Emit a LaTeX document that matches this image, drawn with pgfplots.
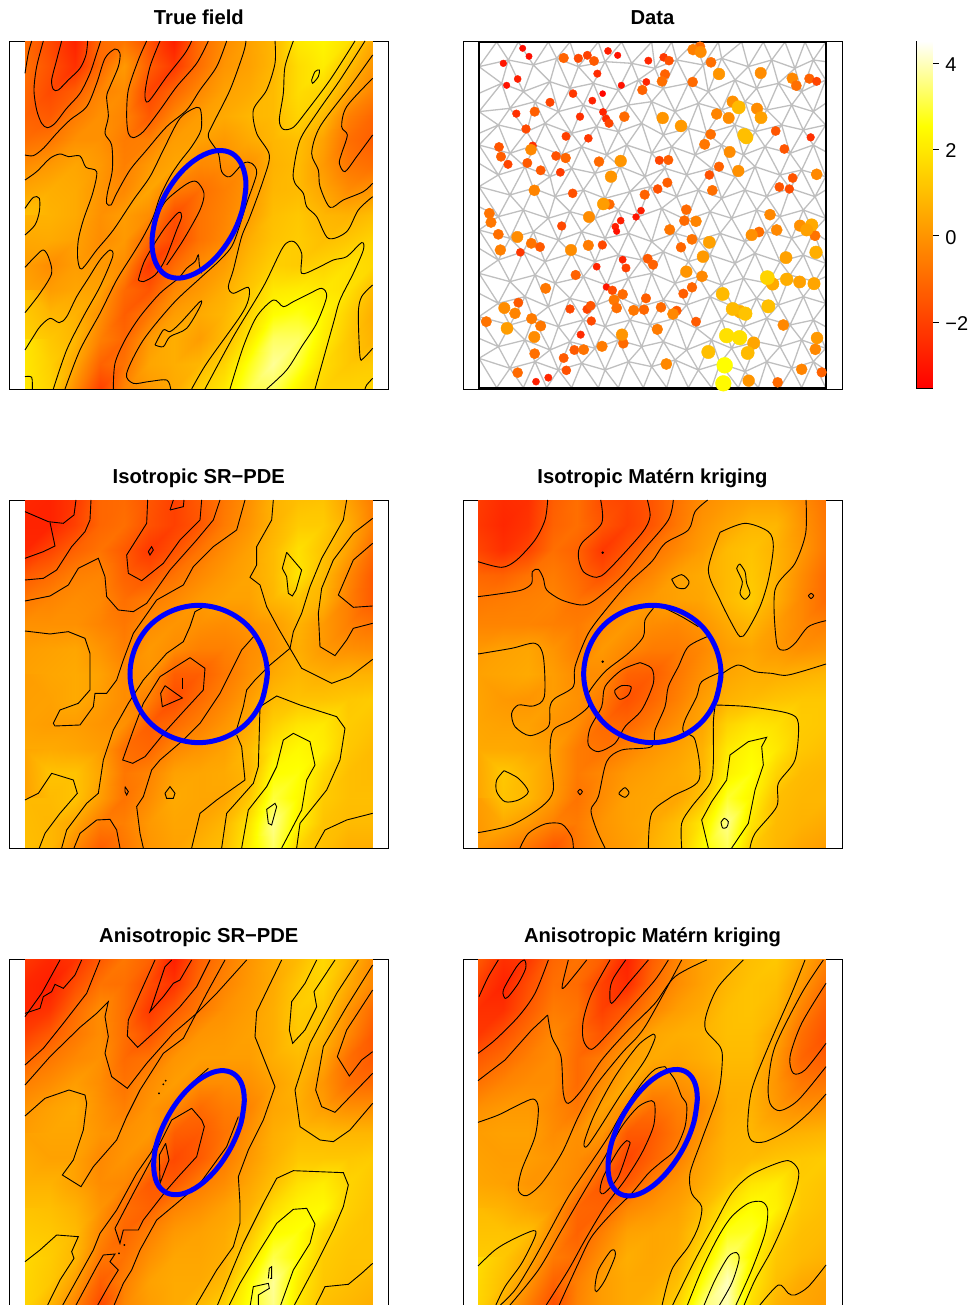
\documentclass[border=0pt]{standalone}
\usepackage{fontspec}
\setmainfont{Liberation Sans}
\usepackage{pgfplots}
\pgfplotsset{compat=1.18}
\pgfplotsset{
 colormap={heat}{rgb255(0)=(255,0,0) rgb255(606)=(255,255,0) rgb255(804)=(255,255,255)},
 panel/.style={scale only axis,width=379pt,height=348pt,anchor=south west,ticks=none,y dir=reverse,
  colormap name=heat,point meta min=-3.53,point meta max=4.51,unbounded coords=jump,
  axis line style={line width=0.8pt,black},
  every axis title shift=0pt,
  title style={anchor=base,yshift=16.5pt,font=\fontsize{20.2}{24}\selectfont\bfseries}},
 ct/.style={black,line width=0.9pt,no marks},
 rd/.style={ct,smooth,tension=0.5},
 ring/.style={color=blue,line width=5pt,no marks,smooth,tension=0.6},
}
\newcommand\fld[3]{\addplot[surf,shader=interp,mesh/cols=15,point meta=explicit]
 table[row sep=crcr,header=false,x expr={#1+mod(\coordindex,15)*74.55},y expr={#2+floor(\coordindex/15)*74.57},meta index=0]{#3};}
\newcommand\cl[1]{\addplot[ct] coordinates {#1};}
\newcommand\cs[1]{\addplot[rd] coordinates {#1};}
% mesh vertices of the data panel
\newcommand\vrow[2]{\foreach \x/\y [count=\i from 0] in {#2}{\expandafter\xdef\csname V#1-\i\endcsname{(\x,\y)}}}
\vrow{0}{72/36,125/36,190/36,280/36,345/36,430/36,500/36,590/36,650/36,720/36,790/36,860/36,925/36,990/36,1050/36,1112/36}
\vrow{1}{72/110,160/90,235/105,305/85,370/110,450/95,530/100,600/115,665/90,745/105,800/85,880/110,950/90,1020/115,1075/90,1112/95}
\vrow{2}{72/190,140/160,205/185,285/155,345/175,415/160,490/180,550/150,625/175,700/160,760/185,840/150,905/175,970/160,1040/185,1112/150}
\vrow{3}{72/245,165/235,240/215,310/245,385/225,450/245,520/225,590/215,660/245,730/220,800/240,870/215,935/240,1010/225,1075/245,1112/220}
\vrow{4}{72/310,130/285,215/305,270/280,350/310,425/290,490/305,560/280,625/315,700/295,755/310,840/285,900/305,980/285,1045/300,1112/285}
\vrow{5}{72/345,165/370,240/345,320/375,380/350,455/375,515/345,590/370,650/350,720/375,800/345,865/375,930/350,1005/370,1075/345,1112/365}
\vrow{6}{72/400,130/435,210/410,285/440,350/415,420/430,495/410,570/440,630/415,695/435,770/415,840/440,900/410,975/435,1040/420,1112/440}
\vrow{7}{72/470,165/495,235/475,300/500,385/480,450/505,525/485,585/470,665/500,730/480,800/505,870/480,935/500,1005/475,1080/500,1112/480}
\vrow{8}{72/530,130/560,205/540,280/565,345/545,420/565,490/540,550/560,620/535,695/570,765/545,830/565,905/540,975/560,1045/540,1112/565}
\vrow{9}{72/600,165/625,235/605,310/630,380/605,450/625,520/610,590/635,660/610,730/630,795/610,870/635,935/605,1010/625,1075/605,1112/630}
\vrow{10}{72/655,130/690,205/665,270/695,350/670,420/695,490/675,560/690,625/665,700/695,765/675,840/700,900/670,975/695,1045/675,1112/700}
\vrow{11}{72/730,165/755,240/735,300/760,385/740,455/765,520/745,590/730,660/760,730/740,800/765,865/745,940/760,1005/735,1080/755,1112/740}
\vrow{12}{72/790,130/820,210/800,280/830,345/805,425/825,490/800,555/830,625/810,695/825,765/800,835/830,905/805,970/825,1045/800,1112/820}
\vrow{13}{72/860,165/885,235/865,310/890,385/870,450/890,525/870,585/885,660/865,725/895,800/870,865/890,935/865,1005/885,1075/870,1112/890}
\vrow{14}{72/925,130/950,210/930,285/960,345/935,420/955,490/930,560/950,625/935,695/960,770/930,830/955,905/935,975/950,1040/930,1112/955}
\vrow{15}{72/985,165/1015,240/995,310/1020,380/1000,450/1020,520/995,590/1010,660/990,730/1020,795/1000,870/1025,935/995,1010/1015,1075/995,1112/1020}
\vrow{16}{72/1073,125/1073,205/1073,275/1073,350/1073,430/1073,490/1073,565/1073,635/1073,700/1073,770/1073,850/1073,910/1073,975/1073,1040/1073,1112/1073}
\gdef\meshc{}
\newcommand\seg[4]{\xdef\meshc{\meshc\csname V#1-#2\endcsname\csname V#3-#4\endcsname(nan,nan)}}
\foreach \j in {0,...,16}{\foreach \i in {0,...,15}{%
 \pgfmathtruncatemacro\jj{\j+1}\pgfmathtruncatemacro\ii{\i+1}\pgfmathtruncatemacro\odd{mod(\j,2)}%
 \ifnum\i<15 \seg\j\i\j\ii\fi
 \ifnum\j<16 \seg\j\i\jj\i
  \ifnum\i<15 \ifnum\odd=1 \seg\j\i\jj\ii\else\seg\j\ii\jj\i\fi\fi
 \fi}}
\begin{document}
\begin{tikzpicture}
\useasboundingbox (0,0) rectangle (976pt,1305pt);
\clip (0,0) rectangle (976pt,1305pt);
% ---------- True field
\begin{axis}[panel,at={(9.33pt,916pt)},xmin=28,xmax=1165,ymin=33,ymax=1077,title={True field}]
\fld{75}{33}{
-1\\-1.8\\-2.7\\-1\\-0.7\\-1.6\\-2.8\\-1\\-0.2\\0.3\\0.8\\2\\2.3\\1.8\\0.5\\
-0.9\\-1.6\\-2.4\\-1\\0.1\\-1.3\\-2.2\\-0.9\\0\\0.3\\0.8\\1.7\\2.1\\1\\0\\
-1.1\\-1.8\\-1.3\\-0.4\\-0.2\\-1.9\\-1.1\\-0.3\\0.3\\0.5\\0.9\\1.7\\1.5\\0.4\\-0.4\\
-1.2\\-1.4\\-0.6\\-0.1\\-0.4\\-1.4\\-0.3\\0.2\\0.5\\0.8\\0.9\\1.5\\0.9\\-0.5\\-1.1\\
-0.9\\-0.7\\-0.1\\-0.1\\-0.6\\-0.5\\0.2\\0.3\\0.1\\0.5\\0.8\\1\\0.3\\-0.9\\-1.3\\
-0.2\\0.1\\0.4\\0.1\\-0.5\\0.1\\0.4\\-0.3\\-0.2\\-0.1\\0.7\\0.9\\0.1\\-0.7\\-0.9\\
0.4\\0.6\\0.5\\0\\-0.3\\0.4\\-0.6\\-0.9\\-0.5\\0\\0.8\\0.9\\0.4\\-0.2\\0\\
1\\0.7\\0.5\\-0.1\\0.2\\-0.2\\-1.7\\-0.8\\-0.4\\0.2\\1\\1.2\\0.8\\0.7\\1\\
0.7\\0.5\\0.3\\-0.2\\0.1\\-1.1\\-1.8\\-0.8\\-0.3\\0.6\\1.1\\1.3\\1\\1.2\\1.5\\
0.2\\-0.2\\0.2\\0.1\\-0.2\\-2.2\\-1\\-0.2\\0.2\\0.9\\1.4\\1.3\\1.5\\1.8\\1.6\\
0.4\\0.2\\0.4\\0.3\\-1\\-1.5\\-0.3\\0.1\\0.6\\1.2\\2\\2.1\\2\\1.8\\0.9\\
1\\0.8\\0.7\\-0.1\\-1.3\\-0.7\\0.2\\0.5\\0.8\\1.5\\2.5\\2.7\\2.3\\1.4\\0.6\\
1.5\\1.2\\0.8\\-0.5\\-1.1\\0.1\\0.6\\0.2\\0.9\\2\\3.3\\3.3\\2.1\\1.2\\0.7\\
1.9\\1.4\\0.4\\-1.2\\-0.8\\0.4\\0.6\\0.8\\1.5\\2.7\\3.7\\2.9\\1.7\\1.2\\1.3\\
2\\1.5\\-0.2\\-2\\-0.4\\0.1\\0.5\\1.4\\2\\3.1\\3.2\\2.2\\1.5\\1.5\\1.5\\
}
\cs{(185,33)(170,90)(155,150)(160,178)(175,180)(205,150)(240,115)(258,75)(263,33)}
\cs{(130,33)(110,110)(102,180)(110,240)(125,280)(142,293)(165,280)(200,235)(240,190)(270,130)(290,70)(302,33)}
\cs{(95,33)(85,70)(75,130)}
\cs{(75,375)(100,377)(130,355)(170,310)(210,270)(260,230)(290,160)(315,85)(345,57)(360,70)(355,110)(330,170)(320,200)(325,260)(315,310)(335,345)(337,420)(322,490)(320,520)(333,525)(350,490)(390,420)(440,360)(500,290)(560,240)(600,180)(650,110)(680,33)}
\cs{(75,450)(110,425)(150,385)(180,372)(205,380)(240,378)(258,412)(290,425)(278,490)(250,570)(235,630)(233,685)(245,717)(290,660)(340,600)(400,510)(450,440)(490,360)(540,265)(590,232)(603,245)(603,300)(575,350)(540,395)(510,440)(480,500)(460,560)(430,620)(400,670)(350,750)(300,850)(240,960)(195,1077)}
\cs{(75,960)(100,920)(120,890)(150,865)(178,878)(200,860)(230,800)(265,745)(300,690)(330,660)(338,680)(300,770)(250,860)(200,960)(160,1077)}
\cs{(75,535)(100,502)(118,505)(118,545)(105,585)(75,615)}
\cs{(75,712)(110,675)(130,660)(145,680)(155,730)(120,790)(75,848)}
\cs{(75,1040)(95,1042)(97,1077)}
\cs{(470,560)(500,510)(560,462)(590,455)(612,490)(600,540)(550,630)(500,705)}
\cs{(340,1077)(345,1000)(375,930)(420,860)(480,790)(535,745)(560,715)(585,695)(595,675)(598,705)(605,730)}
\cs{(512,1077)(500,1050)(445,1055)(400,1060)(380,1030)(430,930)(520,820)(600,745)(660,690)(700,640)(740,520)(770,430)(755,400)(730,400)(690,440)(665,425)(655,370)(625,320)(640,280)(690,180)(730,70)(738,33)}
\cs{(415,750)(435,690)(490,600)(535,548)(545,560)(530,600)(495,690)(465,735)(430,755)(415,750)}
\cs{(480,33)(450,110)(435,190)(445,215)(500,140)(555,70)(575,33)}
\cs{(440,33)(415,90)(385,180)(380,260)(385,310)(400,323)(430,305)(480,240)(530,170)(590,100)(625,33)}
\cs{(825,33)(825,100)(800,180)(760,240)(770,310)(808,375)(790,450)(750,560)(725,620)(700,720)(685,770)(700,790)(745,772)(745,810)(720,860)(620,1000)(575,1077)}
\cs{(880,33)(855,110)(850,190)(838,270)(850,298)(880,292)(915,250)(990,150)(1065,33)}
\cs{(935,150)(945,125)(958,120)(955,140)(938,160)(935,150)}
\cs{(1095,33)(1020,150)(950,250)(900,330)(880,425)(885,460)(910,490)(920,530)(950,560)(985,625)(1040,605)(1075,540)(1118,500)}
\cs{(1118,75)(1050,170)(960,290)(935,370)(955,420)(960,470)(990,532)(1030,510)(1090,485)(1118,460)}
\cs{(1118,145)(1040,230)(1025,290)(1042,315)(1025,370)(1018,400)(1035,425)(1070,380)(1118,315)}
\cs{(615,1077)(700,920)(790,770)(850,650)(882,635)(905,670)(905,730)(950,715)(1000,690)(1040,680)(1085,638)(1090,660)(1060,730)(1020,810)(1000,880)(945,1077)}
\cs{(690,1077)(730,950)(770,860)(820,810)(850,830)(880,815)(930,790)(965,775)(980,800)(950,880)(905,950)(860,1020)(800,1077)}
\cs{(1118,765)(1085,800)(1075,850)(1080,980)(1090,985)(1118,955)}
\cs{(1118,1045)(1100,1065)(1095,1077)}
\cs{(465,945)(490,900)(510,905)(540,880)(600,815)(600,830)(560,895)(510,920)(490,950)(465,945)}
\addplot[ring] coordinates {(738,467)(727,540)(697,614)(651,679)(597,724)(543,744)(497,735)(467,698)(456,639)(467,566)(497,492)(543,427)(597,382)(651,362)(697,371)(727,408)(738,467)(727,540)};
\end{axis}
% ---------- Data
\begin{axis}[panel,at={(463pt,916pt)},xmin=24,xmax=1161,ymin=33,ymax=1077,title={Data}]
\edef\tmp{\noexpand\addplot[color=black!25,line width=1.3pt,no marks] coordinates {\meshc};}\tmp
\addplot[scatter,only marks,mark=*,point meta=explicit,
 scatter/use mapped color={draw=mapped color,fill=mapped color},
 visualization depends on={value \thisrowno{2} \as \vv},
 scatter/@pre marker code/.append code={\pgfmathsetmacro\rr{3.3+0.83*(\vv+3.1)}\pgfsetplotmarksize{\rr pt}}]
 table[row sep=crcr,header=false,x index=0,y index=1,meta index=2]{
203 55 -3.2\\222 79 -3.2\\145 100 -3\\155 166 -3.1\\188 147 -2.8\\326 84 -1.2\\370 85 -1.8\\397 76 -2\\417 93 -1.4\\459 63 -2.8\\488 76 -3.1\\427 131 -2.5\\499 166 -3.1\\443 191 -3.4\\580 92 -2.6\\626 82 -2.2\\642 92 -1.6\\630 133 -1.2\\621 154 -0.9\\574 156 -2.7\\562 180 -1.2\\713 156 -1\\768 97 -0.9\\792 132 0\\917 129 -0.2\\1012 145 -0.3\\1024 167 -0.9\\1063 146 -1.2\\1085 154 -1.9\\735 50 -1\\714 59 -0.5\\737 66 -0.2\\
354 191 -2.2\\412 212 -2.7\\285 217 -1.9\\184 251 -2.4\\239 245 -1.3\\375 260 -2.4\\444 246 -2.7\\453 266 -2.5\\462 280 -1.9\\508 260 -1\\623 264 0\\678 288 0.1\\785 252 -0.4\\821 264 -0.2\\833 215 -0.1\\851 232 0.9\\906 236 -0.2\\918 263 0.3\\868 315 1\\874 322 1\\962 303 -1.5\\1067 322 -2.4\\213 297 -1.8\\333 319 -2\\400 325 -2.2\\767 313 -0.9\\749 343 -0.7\\988 357 -1.5\\132 351 -1.5\\233 347 -2.4\\228 359 -0.3\\138 380 -1.3\\159 403 -1.9\\217 399 -1.4\\303 378 -1.6\\332 384 -1.1\\257 421 -1.4\\316 427 -2.1\\432 395 -1\\497 393 0\\468 440 0\\613 391 -1.9\\640 390 -1.3\\824 366 -0.2\\792 410 -1.2\\763 435 -1.6\\850 423 -0.1\\1013 444 -1.5\\1085 433 -0.3\\637 458 -1.3\\608 477 -1.6\\569 494 -1.2\\772 481 -0.9\\973 471 -1.5\\1003 477 -1.7\\238 481 -0.4\\353 490 -1.6\\463 523 -1\\445 522 0.2\\
694 539 -1\\558 542 -2.8\\543 561 -3\\497 572 -2.8\\481 590 -2.8\\485 604 -3.1\\103 550 -0.8\\108 577 -0.7\\320 588 -1.8\\402 561 -0.2\\688 572 -1\\723 574 -0.4\\945 554 -0.3\\644 599 -0.7\\912 606 -0.9\\890 615 -0.1\\965 600 -0.3\\1035 587 -0.1\\1080 617 -0.8\\1070 585 0.5\\1055 600 0.3\\130 613 -0.9\\187 621 -0.2\\229 640 -0.8\\255 651 -1.4\\136 660 -0.5\\196 667 -2.2\\348 660 -0.2\\400 646 -0.6\\442 645 -1.8\\711 628 -0.8\\763 637 0.3\\678 652 -1.1\\1083 667 0.6\\993 683 0.3\\744 680 0.1\\503 689 -2.7\\578 686 -1.4\\594 704 -1.2\\513 714 -2\\425 710 -2.7\\694 725 0\\741 739 -0.3\\362 735 -1.2\\953 762 0.5\\937 743 1.5\\995 748 0.6\\1034 756 0.3\\1077 761 0.4\\454 771 -3\\472 781 -1.7\\503 793 -1\\272 775 -0.7\\711 772 -1.1\\685 791 -1.3\\803 792 0.9\\477 810 -0.7\\573 805 -1.3\\190 818 -1.4\\148 834 -0.2\\180 850 -0.4\\345 837 -1.8\\396 838 -1.9\\407 827 -1.5\\485 834 -0.9\\536 841 -0.7\\567 839 -1.1\\618 832 -1\\665 842 -1.4\\654 852 -0.3\\855 845 0.6\\833 837 0.9\\871 851 1.1\\940 829 1\\230 866 -0.6\\257 888 -0.7\\94 875 -0.8\\156 895 0.2\\409 873 -1.8\\723 875 -1.4\\985 885 -0.3\\607 898 -0.6\\238 921 -0.2\\377 914 -2.5\\505 940 -1\\501 914 0\\815 917 1.8\\854 923 1.8\\896 939 0.4\\1086 924 0.1\\441 949 -0.6\\358 960 -1.4\\386 959 -0.8\\239 971 -0.9\\760 966 1\\878 969 0.9\\1081 958 -0.3\\326 984 -1.4\\634 1002 -0.3\\809 1006 2.5\\1040 1018 -0.4\\1100 1027 -1.2\\188 1028 -1\\334 1021 -1.6\\280 1043 -2.6\\243 1055 -2.8\\805 1060 2.4\\881 1052 0\\968 1057 -1\\
};
\addplot[black,line width=1.7pt,no marks] coordinates {(72,36)(1112,36)(1112,1073)(72,1073)(72,36)(1112,36)};
\end{axis}
% ---------- colour bar
\begin{axis}[at={(916.7pt,917pt)},anchor=south west,scale only axis,width=15.6pt,height=347pt,
 colormap name=heat,point meta min=-3.53,point meta max=4.51,xmin=0,xmax=1,ymin=-3.53,ymax=4.51,
 xtick=\empty,ytick={-2,0,2,4},yticklabels={−2,0,2,4},ytick pos=right,yticklabel pos=right,
 tick align=outside,major tick length=6.5pt,tick style={black,line width=0.8pt},
 axis line style={line width=0.8pt,black},
 yticklabel style={font=\fontsize{20}{24}\selectfont,xshift=3pt,yshift=-1.5pt}]
\addplot[surf,shader=interp,mesh/cols=2,point meta=y] coordinates {(0,-3.53)(1,-3.53)(0,2.53)(1,2.53)(0,4.51)(1,4.51)};
\end{axis}
% ---------- Isotropic SR-PDE
\begin{axis}[panel,at={(9.33pt,457pt)},xmin=28,xmax=1165,ymin=30,ymax=1074,title={Isotropic SR−PDE}]
\fld{75}{30}{
-2.6\\-2.7\\-2.2\\-1.1\\-1\\-1.5\\-2\\-1.4\\-0.7\\-0.1\\0.7\\1\\1.1\\0.3\\-0.6\\
-2.7\\-2.7\\-2\\-1.1\\-0.9\\-1.6\\-2\\-1.5\\-0.6\\0\\0.7\\1.3\\1.3\\0.6\\-0.5\\
-2.6\\-1.9\\-1.2\\-0.8\\-1.4\\-2.2\\-1.6\\-0.8\\-0.2\\0.3\\0.9\\1.8\\1.1\\0.3\\-1\\
-1.4\\-1\\-0.5\\-0.4\\-1.2\\-1.5\\-0.8\\-0.3\\0.1\\0.4\\0.9\\1.9\\0.9\\-0.3\\-1.4\\
-0.7\\-0.4\\-0.2\\-0.3\\-0.9\\-0.6\\-0.3\\0.1\\0.3\\0.3\\0.8\\1.1\\0.7\\-0.5\\-1.4\\
-0.1\\-0.1\\-0.1\\-0.4\\-0.7\\-0.2\\0\\-0.1\\-0.2\\0\\0.2\\0.7\\0.1\\-0.5\\-0.8\\
0.2\\0.3\\0.4\\0\\-0.5\\0.1\\-0.2\\-0.5\\-0.5\\-0.2\\0.1\\0.6\\0.1\\-0.1\\-0.2\\
0.3\\0.4\\0.5\\0.3\\-0.2\\0\\-1.3\\-1.3\\-0.7\\-0.1\\0.5\\0.8\\0.6\\0.7\\0.7\\
0.2\\0.3\\0.5\\0.2\\-0.2\\-0.5\\-1.7\\-1\\-0.4\\0.2\\0.9\\1.1\\1.1\\1.2\\1.3\\
0.3\\0.2\\0.2\\0\\-0.1\\-1.3\\-1\\-0.5\\0\\0.5\\1.4\\1.9\\2\\1.3\\1.1\\
0.5\\0.5\\0.4\\0.2\\-0.9\\-1.1\\-0.3\\0\\0.3\\0.9\\2\\2.4\\2.1\\1.2\\0.9\\
0.4\\1.1\\1.1\\0.4\\-0.7\\-0.4\\0.3\\0.4\\0.5\\0.8\\2.5\\2.6\\1.6\\1\\0.9\\
0.3\\0.9\\1.1\\0.2\\-0.8\\-0.2\\0.5\\0.4\\0.4\\1.2\\3\\2.4\\1.3\\1\\1\\
0.9\\0.8\\0.4\\-0.6\\-0.5\\0.1\\0.4\\0.4\\0.8\\1.9\\3.6\\2.2\\1.1\\0.9\\0.9\\
1\\0.8\\-0.3\\-1.3\\-0.7\\0\\0.3\\0.7\\1\\2.1\\3.3\\1.5\\1\\0.6\\0.6\\
}
\cl{(75,65)(145,95)(190,100)(222,75)(228,30)}
\cl{(150,97)(165,168)(130,185)(75,205)}
\cl{(75,270)(130,265)(170,240)(215,170)(255,125)(270,90)(273,30)}
\cl{(75,333)(150,318)(205,285)(235,235)(295,205)(315,260)(320,320)(355,360)(400,365)(440,340)(510,240)(590,150)(640,90)(660,30)}
\cl{(605,30)(600,90)(540,150)(490,220)(425,272)(385,250)(380,195)(440,100)(443,30)}
\cl{(510,60)(520,30)}\cl{(510,60)(550,50)(552,30)}
\cl{(445,185)(455,170)(460,180)(450,195)(445,185)}
\cl{(735,30)(710,120)(640,170)(580,230)(550,285)(470,330)(400,430)(370,510)(350,570)(320,610)(285,610)(280,650)(240,705)(165,708)(160,700)(180,660)(235,640)(270,600)(270,490)(255,445)(205,425)(150,432)(75,423)}
\cl{(820,30)(815,90)(770,170)(770,225)(750,262)(780,285)(800,350)(835,415)(870,475)(905,535)(995,580)(1050,560)(1118,508)}
\cl{(870,475)(810,525)(765,570)(740,600)(730,650)(705,735)}
\cl{(1040,30)(1030,90)(965,205)(930,290)(905,370)(880,425)(870,475)}
\cl{(623,345)(585,365)(570,410)(550,455)(500,490)(430,570)(385,640)(340,720)(310,810)(295,910)(260,940)(200,1020)(185,1074)}
\cl{(765,435)(725,480)(700,530)(660,610)(600,700)(550,750)(480,810)(455,840)(430,920)(410,950)(420,1030)(430,1074)}
\cl{(570,503)(615,535)(610,600)(550,665)(500,720)(435,800)(398,820)(368,810)(400,720)(430,640)(480,560)(570,503)}
\cl{(495,587)(547,624)(487,650)(482,610)(495,587)}
\cl{(547,563)(547,597)}
\cl{(780,650)(775,830)(760,880)(680,970)(665,1074)}
\cl{(780,650)(830,618)(900,645)(1010,680)(1035,715)(1020,810)(980,900)(900,1000)(890,1074)}
\cl{(845,1074)(905,960)(920,870)(945,825)(930,755)(880,730)(850,750)(830,830)(800,890)(745,960)(725,1074)}
\cl{(800,958)(825,940)(830,950)(815,1005)(805,1000)(800,958)}
\cl{(710,735)(725,770)(735,870)(650,930)(600,970)(575,1074)}
\cl{(75,930)(115,910)(155,850)(220,870)(232,910)(180,970)(135,1030)(118,1074)}
\cl{(222,1074)(240,1030)(290,990)(330,988)(350,1020)(360,1074)}
\cl{(1118,85)(1060,130)(1000,210)(965,295)(955,370)(960,470)(1005,497)(1040,450)(1060,415)(1118,400)}
\cl{(1118,160)(1060,210)(1015,315)(1060,352)(1118,348)}
\cl{(495,910)(510,890)(525,910)(520,925)(500,925)(495,910)}
\cl{(375,890)(385,905)(380,915)(375,905)(375,890)}
\cl{(945,1074)(975,1020)(1040,990)(1118,970)}
\cl{(860,187)(905,240)(888,300)(877,318)(865,310)(860,260)(847,235)(860,187)}
\addplot[ring] coordinates {(802,552)(786,631)(742,698)(675,742)(596,758)(517,742)(450,698)(406,631)(390,552)(406,473)(450,406)(517,362)(596,346)(675,362)(742,406)(786,473)(802,552)(786,631)};
\end{axis}
% ---------- Isotropic Matern
\begin{axis}[panel,at={(463pt,457pt)},xmin=24,xmax=1161,ymin=30,ymax=1074,title={Isotropic Matérn kriging}]
\fld{69}{30}{
-2.1\\-2.5\\-2.4\\-1.3\\-0.9\\-1.7\\-1.9\\-1.5\\-0.8\\-0.2\\0.1\\0.3\\0.3\\-0.2\\-0.8\\
-2.2\\-2.6\\-2.3\\-1.2\\-0.9\\-1.5\\-2\\-1.5\\-0.7\\0\\0.4\\0.8\\0.8\\0\\-0.7\\
-1.9\\-2.4\\-1.9\\-0.9\\-1.2\\-2.2\\-1.5\\-0.8\\-0.3\\0.2\\0.9\\1.1\\0.7\\0.1\\-0.7\\
-1.1\\-1.2\\-0.8\\-0.6\\-1\\-1.6\\-0.9\\-0.3\\0.3\\0.5\\0.9\\1.2\\0.7\\-0.2\\-1\\
-0.7\\-0.6\\-0.5\\-0.4\\-0.8\\-0.7\\-0.2\\0.1\\0.3\\0.4\\0.9\\1.3\\0.6\\-0.3\\-1\\
-0.4\\-0.4\\-0.4\\-0.5\\-0.6\\-0.2\\0.1\\-0.2\\-0.3\\0\\0.5\\0.8\\0.2\\-0.3\\-0.5\\
0.1\\0.3\\0.4\\0\\-0.5\\0.1\\-0.3\\-0.6\\-0.6\\-0.3\\0.2\\0.4\\0.1\\-0.1\\0\\
0.3\\0.4\\0.5\\0.2\\-0.2\\-0.2\\-1.2\\-1.3\\-0.7\\-0.1\\0.4\\0.6\\0.6\\0.7\\0.8\\
0.3\\0.1\\0\\0.2\\-0.1\\-0.6\\-1.6\\-1.1\\-0.5\\0.2\\0.7\\0.9\\1.1\\1.2\\1.2\\
0.4\\0.3\\0.3\\0\\-0.2\\-1\\-1.1\\-0.6\\-0.1\\0.4\\1.5\\1.9\\1.8\\1.3\\1.2\\
0.5\\0.5\\0.4\\0.2\\-0.6\\-0.8\\-0.4\\0\\0.3\\0.7\\2\\2.4\\2\\1.2\\1\\
0.5\\1.2\\0.8\\0.2\\-0.6\\-0.3\\0.1\\0.3\\0.5\\0.8\\2.2\\2.6\\1.5\\0.9\\0.8\\
0.4\\1.1\\0.8\\0.1\\-0.8\\-0.2\\0.3\\0.4\\0.4\\1.1\\2.9\\2.3\\1\\0.8\\0.8\\
0.2\\0.5\\0.1\\-0.5\\-0.6\\0\\0.3\\0.5\\1\\2\\3.6\\1.9\\0.9\\0.7\\0.5\\
0\\-0.3\\-0.8\\-1.5\\-0.7\\-0.1\\0.2\\0.7\\1.1\\2.4\\3.2\\1.3\\0.8\\0.4\\0.2\\
}
\cs{(69,215)(140,232)(185,210)(240,150)(270,90)(278,30)}
\cs{(69,320)(130,312)(200,300)(230,280)(232,245)(250,238)(265,265)(275,300)(320,330)(380,345)(420,330)(500,260)(570,175)(640,90)(655,30)}
\cs{(437,30)(440,100)(380,160)(370,200)(385,245)(425,262)(460,240)(560,130)(585,80)(577,30)}
\cs{(758,30)(720,65)(700,120)(630,160)(590,215)(520,280)(460,350)(400,430)(360,530)(355,590)(300,625)(285,650)(280,710)(225,737)(180,710)(170,670)(190,645)(235,648)(268,620)(265,500)(240,460)(170,475)(69,492)}
\cs{(620,350)(680,380)(730,410)}
\cs{(595,355)(570,390)(565,440)(520,490)(450,545)(400,610)(400,650)(350,690)(295,720)(285,790)(295,900)(260,950)(170,1005)(69,1028)}
\cs{(757,440)(700,470)(670,530)(640,590)(630,650)(600,720)(590,770)(500,780)(455,815)(430,920)(408,960)(425,1020)(450,1074)}
\cs{(555,518)(590,535)(595,580)(560,660)(510,710)(480,760)(430,785)(400,765)(405,715)(440,650)(450,590)(500,540)(555,518)}
\cs{(480,600)(500,587)(528,590)(520,615)(495,628)(480,610)(480,600)}
\cs{(803,550)(850,525)(900,545)(950,550)(1000,555)(1113,522)}
\cs{(800,545)(740,575)(725,620)(690,690)(685,725)(720,750)(732,870)(650,920)(590,970)(580,1074)}
\cs{(780,650)(775,700)(775,820)(765,880)(710,950)(680,1000)(680,1074)}
\cs{(780,645)(880,650)(1000,670)(1030,700)(1020,810)(970,880)(965,950)(900,1030)(885,1074)}
\cl{(760,1074)(740,990)(770,935)(815,870)(825,795)(880,755)(935,742)(920,770)(925,825)(900,900)(880,1000)(830,1074)}
\cs{(798,997)(808,985)(820,995)(815,1012)(803,1014)(798,997)}
\cs{(147,842)(190,865)(220,905)(190,930)(150,935)(125,905)(125,870)(147,842)}
\cs{(495,905)(510,893)(522,908)(510,922)(492,912)(495,905)}
\cs{(368,905)(375,898)(382,905)(375,914)(368,905)}
\cs{(195,1074)(220,1030)(270,1002)(320,1002)(350,1040)(355,1074)}
\cs{(650,268)(680,254)(702,275)(690,295)(665,292)(650,268)}
\cs{(795,127)(870,100)(940,125)(955,170)(940,270)(915,350)(875,425)(855,440)(830,400)(795,330)(760,240)(795,127)}
\cs{(855,222)(870,245)(875,280)(885,310)(870,328)(855,310)(862,275)(845,235)(855,222)}
\cs{(1053,30)(1052,130)(1020,220)(960,300)(965,460)(990,480)(1020,460)(1060,410)(1113,392)}
\cs{(1060,317)(1068,310)(1076,317)(1068,326)(1060,317)}
\addplot[black,only marks,mark=*,mark size=1pt] coordinates {(443,188)(443,515)};
\addplot[ring] coordinates {(798,552)(782,631)(738,698)(671,742)(592,758)(513,742)(446,698)(402,631)(386,552)(402,473)(446,406)(513,362)(592,346)(671,362)(738,406)(782,473)(798,552)(782,631)};
\end{axis}
% ---------- Anisotropic SR-PDE
\begin{axis}[panel,at={(9.33pt,-2pt)},xmin=28,xmax=1165,ymin=27,ymax=1071,title={Anisotropic SR−PDE}]
\fld{75}{27}{
-2.2\\-2.6\\-2.3\\-1.4\\-0.7\\-1.2\\-2.8\\-1.3\\-0.6\\0\\0.5\\0.9\\1.6\\0.9\\-0.2\\
-2.6\\-2.8\\-1.7\\-0.8\\-0.9\\-1.7\\-2.3\\-1\\-0.4\\0.1\\0.5\\1.2\\1.5\\0.5\\-0.3\\
-2.6\\-2.3\\-1\\-0.2\\-0.9\\-2.2\\-1.4\\-0.7\\-0.1\\0.2\\0.6\\1.3\\1.2\\0\\-1\\
-2\\-1.4\\-0.7\\-0.2\\-0.9\\-1.6\\-0.7\\0\\0.1\\0.3\\0.6\\1.2\\0.8\\-0.3\\-1.4\\
-1.2\\-0.7\\-0.3\\-0.1\\-1\\-0.8\\0\\0.2\\0.2\\0.2\\0.6\\0.9\\0.4\\-0.9\\-1.4\\
-0.5\\-0.2\\0.2\\-0.2\\-0.8\\-0.2\\0.2\\-0.2\\-0.2\\-0.1\\0.3\\0.7\\0\\-0.9\\-1\\
0\\0.3\\0.5\\-0.1\\-0.5\\0\\-0.3\\-1\\-0.6\\-0.4\\0.4\\0.6\\0.2\\-0.1\\-0.1\\
0.2\\0.4\\0.4\\0\\-0.1\\0.1\\-1.3\\-1.4\\-0.8\\-0.1\\0.6\\0.9\\0.9\\0.8\\0.8\\
0.3\\0.3\\0.3\\-0.3\\0\\-0.4\\-1.8\\-1.4\\-0.6\\0.1\\0.7\\1.2\\1.2\\1.2\\1.3\\
0.7\\0.7\\0.3\\-0.2\\-0.3\\-1.4\\-1.4\\-0.6\\-0.2\\0.4\\1\\1.8\\2.1\\1.5\\1.2\\
1\\1\\0.7\\0\\-0.9\\-1.2\\-0.4\\-0.1\\0.3\\0.7\\1.7\\2.3\\2.4\\1.4\\1.1\\
1.1\\1.2\\0.9\\-0.3\\-1.1\\-0.5\\0.1\\0.3\\0.5\\1.1\\2.4\\2.6\\1.6\\1.2\\1.1\\
1.5\\1.3\\0.8\\-0.7\\-0.8\\-0.1\\0.4\\0.4\\0.6\\1.7\\3.1\\2.5\\1.3\\1.1\\1.1\\
1.6\\1.2\\0.2\\-1.3\\-0.5\\0.3\\0.5\\0.5\\0.9\\2.4\\3.7\\2.1\\1.2\\1\\0.8\\
1.5\\0.7\\-0.5\\-1.8\\-0.3\\0.2\\0.5\\0.9\\1.5\\2.7\\3.6\\1.9\\1\\0.8\\0.6\\
}
\cl{(75,190)(120,175)(130,140)(155,125)(165,103)(190,115)(225,75)(245,30)}
\cl{(75,200)(125,130)(180,30)}
\cl{(75,345)(130,295)(190,220)(260,130)(300,30)}
\cl{(75,405)(150,320)(240,232)(290,190)(325,155)(315,200)(325,260)(315,310)(335,380)(382,415)(440,340)(520,250)(590,190)(650,130)(740,30)}
\cl{(515,30)(495,50)(475,110)(450,185)(490,140)(520,100)(540,90)(575,30)}
\cl{(465,30)(420,130)(385,210)(382,258)(413,292)(470,240)(540,170)(590,110)(630,30)}
\cl{(75,498)(135,445)(207,420)(255,435)(260,460)(250,540)(220,630)(187,675)(243,710)(280,650)(350,570)(380,500)(420,420)(490,310)(550,265)(620,130)(675,30)}
\cl{(845,30)(770,185)(765,260)(825,410)(790,510)(745,600)(715,680)(720,760)(720,820)(700,890)(650,960)(585,1071)}
\cl{(625,355)(580,395)(540,440)(500,500)(455,605)(410,670)(350,780)(300,850)(280,900)(230,990)(185,1071)}
\cl{(715,500)(680,590)(600,700)(530,760)(470,810)(420,900)(395,960)(370,1000)(340,1071)}
\cl{(575,475)(605,510)(613,530)(590,620)(535,680)(500,720)(430,810)(415,840)(370,840)(360,880)(345,835)(400,730)(480,580)(515,510)(575,475)}
\cl{(497,580)(507,630)(480,700)(478,615)(497,580)}
\cl{(225,1071)(290,950)(310,915)(345,912)(330,935)(355,960)(330,1000)(290,1071)}
\cl{(75,935)(120,900)(170,855)(235,860)(215,905)(222,925)(180,990)(140,1071)}
\cl{(650,1071)(730,880)(790,760)(830,685)(880,662)(1030,668)(1045,705)(1030,770)(1000,840)(950,940)(880,1071)}
\cl{(685,1071)(720,1000)(780,900)(830,820)(880,778)(920,775)(945,822)(930,880)(880,960)(840,1071)}
\cl{(805,985)(808,955)(815,950)(815,985)(810,985)}
\cl{(750,1071)(760,1010)(805,1000)(808,1015)(775,1035)(775,1071)}
\cl{(950,30)(915,100)(875,155)(868,240)(878,280)(915,240)(950,170)(942,125)(1005,30)}
\cl{(1075,30)(1010,130)(930,280)(885,420)(900,530)(960,570)(1000,575)(1050,540)(1118,460)}
\cl{(1118,45)(1040,170)(970,290)(947,420)(965,470)(1005,487)(1060,430)(1118,370)}
\cl{(1118,120)(1040,240)(1012,320)(1048,378)(1085,330)(1118,305)}
\cl{(945,1071)(975,1010)(1045,1003)(1085,970)(1118,940)}
\addplot[black,only marks,mark=*,mark size=0.7pt] coordinates {(497,392)(490,403)(477,430)(373,885)(357,910)};
\addplot[ring] coordinates {(733,451)(723,519)(693,592)(649,658)(597,707)(545,732)(501,729)(471,699)(461,645)(471,577)(501,504)(545,438)(597,389)(649,364)(693,367)(723,397)(733,451)(723,519)};
\end{axis}
% ---------- Anisotropic Matern
\begin{axis}[panel,at={(463pt,-2pt)},xmin=24,xmax=1161,ymin=27,ymax=1071,title={Anisotropic Matérn kriging}]
\fld{69}{27}{
-1.4\\-2.4\\-2.2\\-1.1\\-0.8\\-1.3\\-2.7\\-1.3\\-0.4\\0.3\\0.6\\1\\1.2\\0.5\\-0.4\\
-2\\-2.7\\-1.7\\-0.9\\-1\\-2\\-2.5\\-1\\-0.2\\0.3\\0.8\\1.1\\1\\0.1\\-0.9\\
-2.4\\-2.4\\-1.4\\-0.6\\-0.8\\-2\\-1.4\\-0.4\\0.2\\0.5\\1\\1.1\\0.8\\-0.4\\-1.3\\
-2.2\\-1.6\\-0.9\\-0.3\\-0.9\\-1.5\\-0.4\\0.4\\0.6\\0.7\\1\\1\\0.4\\-0.9\\-1.6\\
-1.4\\-1\\-0.5\\-0.2\\-1\\-0.6\\0.2\\0.5\\0.4\\0.6\\0.9\\0.9\\0.1\\-1.1\\-1.3\\
-0.8\\-0.4\\-0.2\\-0.2\\-1\\-0.2\\0.5\\-0.1\\-0.1\\0.2\\0.7\\0.7\\0\\-0.7\\-0.7\\
-0.1\\0.1\\0.1\\-0.3\\-0.7\\0.3\\-0.2\\-0.9\\-0.5\\-0.2\\0.6\\0.7\\0.1\\-0.1\\0\\
0.2\\0.3\\0.3\\-0.2\\-0.1\\0\\-1.4\\-1.4\\-0.7\\0\\0.7\\0.8\\0.6\\0.7\\0.8\\
0.2\\0.2\\0.2\\0\\-0.2\\-0.6\\-1.9\\-1.2\\-0.5\\0.3\\0.8\\0.9\\1.1\\1.2\\1.3\\
0.4\\0.3\\0\\0\\-0.3\\-1.4\\-1.4\\-0.5\\0\\0.5\\1.1\\1.9\\2.1\\1.3\\1.1\\
0.8\\0.7\\0.4\\0.1\\-1.1\\-1.2\\-0.3\\0\\0.3\\0.9\\1.9\\2.5\\2.2\\1.2\\1\\
0.9\\1.1\\1\\-0.2\\-1.2\\-0.5\\0.3\\0.4\\0.5\\1.3\\2.7\\2.8\\1.5\\1\\0.9\\
1.3\\1.2\\0.5\\-0.6\\-0.9\\-0.1\\0.6\\0.4\\0.6\\1.8\\3.4\\2.4\\1.2\\0.9\\0.7\\
1.7\\1\\0\\-1.2\\-0.5\\0.2\\0.5\\0.5\\1\\2.6\\4\\2\\1\\0.5\\0.3\\
1.5\\0.5\\-0.6\\-1.7\\-0.4\\0.2\\0.5\\0.8\\1.5\\3.4\\3.9\\1.7\\0.7\\0.4\\0.2\\
}
\cs{(130,30)(100,80)(72,140)}
\cs{(150,145)(145,120)(185,50)(208,30)(212,55)(190,100)(160,140)(150,145)}
\cs{(280,30)(240,130)(190,200)(120,270)(69,310)}
\cl{(69,392)(150,330)(230,240)(278,195)}
\cs{(278,195)(290,260)(318,320)(325,430)(340,460)(380,420)(440,330)(520,240)(600,160)(660,80)(755,30)}
\cs{(340,30)(322,105)(330,110)(395,30)}
\cs{(580,30)(520,100)(470,160)(465,120)(475,85)(512,30)}
\cs{(465,30)(410,130)(385,210)(385,270)(410,298)(460,250)(530,170)(600,90)(640,30)}
\cs{(595,252)(600,265)(570,330)(500,430)(430,540)(395,590)(388,575)(420,490)(480,380)(550,285)(595,252)}
\cs{(69,517)(130,495)(190,465)(235,447)(250,475)(240,560)(200,660)(190,720)(215,737)(260,700)(320,610)(370,500)(420,410)(500,310)(570,230)(680,30)}
\cs{(865,30)(790,110)(755,190)(752,240)(795,290)(802,330)(790,430)(740,570)(705,670)(710,730)(740,770)(730,830)(700,890)(650,960)(620,1071)}
\cs{(630,350)(660,390)(680,440)(695,465)(690,530)(660,600)(620,635)(580,670)(530,730)(470,790)(410,860)(370,940)(310,1071)}
\cs{(630,350)(600,358)(560,400)(500,490)(460,560)(400,650)(340,740)(280,850)(230,940)(180,1020)(130,1071)}
\cs{(160,1071)(250,960)(320,840)(390,720)(450,620)(500,530)(550,470)(590,452)(600,470)(595,530)(560,610)(510,690)(450,770)(390,870)(340,960)(270,1071)}
\cs{(525,578)(522,590)(490,680)(450,728)(435,725)(445,680)(490,600)(515,572)(525,578)}
\cs{(478,900)(480,920)(450,990)(425,1025)(420,1010)(430,960)(465,905)(478,900)}
\cs{(69,948)(120,900)(170,870)(235,842)(240,860)(200,940)(150,1010)(120,1071)}
\cs{(650,1071)(720,930)(780,820)(830,730)(880,680)(940,650)(1000,632)(1030,660)(1025,710)(990,810)(950,900)(900,990)(865,1071)}
\cs{(695,1071)(740,960)(790,860)(830,800)(880,760)(920,755)(938,780)(930,850)(890,960)(840,1071)}
\cs{(745,1071)(780,990)(820,920)(845,908)(852,930)(830,1000)(790,1071)}
\cs{(910,1071)(970,1005)(1000,1030)(1020,1035)(1060,1010)(1113,945)}
\cs{(1050,30)(1010,130)(940,290)(890,420)(878,530)(890,572)(930,575)(1000,540)(1060,490)(1113,432)}
\cs{(1105,30)(1040,130)(960,290)(940,400)(945,460)(975,482)(1030,450)(1113,350)}
\cs{(1113,100)(1040,220)(1005,320)(1015,370)(1050,360)(1113,280)}
\addplot[ring] coordinates {(727,446)(717,515)(688,589)(644,657)(593,708)(542,735)(498,733)(469,703)(459,650)(469,581)(498,507)(542,439)(593,388)(644,361)(688,363)(717,393)(727,446)(717,515)};
\end{axis}
\end{tikzpicture}
\end{document}
